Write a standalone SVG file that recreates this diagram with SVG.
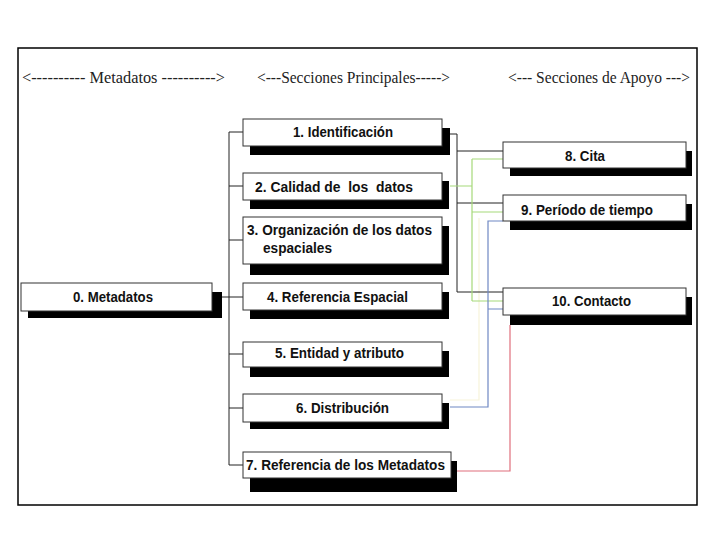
<svg xmlns="http://www.w3.org/2000/svg" width="720" height="540" viewBox="0 0 720 540">
<style>
.bg{fill:#ffffff}
.frame{fill:none;stroke:#000;stroke-width:1.5}
.hdr{font-family:"Liberation Serif","Times New Roman",serif;font-size:16px;fill:#222}
.box{fill:#fff;stroke:#333;stroke-width:1}
.sh{fill:#000}
.lbl{font-family:"Liberation Sans",Arial,sans-serif;font-weight:bold;font-size:15px;fill:#111}
.k{fill:none;stroke:#222;stroke-width:1}
.g{fill:none;stroke:#a6d97a;stroke-width:1.2}
.b{fill:none;stroke:#6f88c4;stroke-width:1.2}
.r{fill:none;stroke:#df6f7c;stroke-width:1.2}
.y{fill:none;stroke:#f7f3da;stroke-width:1.2}
</style>
<rect class="bg" x="0" y="0" width="720" height="540"/>
<rect class="frame" x="18" y="48" width="679" height="457"/>
<text class="hdr" x="22" y="83" textLength="203" lengthAdjust="spacingAndGlyphs">&lt;---------- Metadatos ----------&gt;</text>
<text class="hdr" x="257" y="83" textLength="193" lengthAdjust="spacingAndGlyphs">&lt;---Secciones Principales-----&gt;</text>
<text class="hdr" x="508" y="83" textLength="182" lengthAdjust="spacingAndGlyphs">&lt;--- Secciones de Apoyo ---&gt;</text>

<g id="connectors">
  <path class="k" d="M212 297 H243 M229 132 V465 M229 132 H243 M229 186 H243 M229 240 H243 M229 354 H243 M229 408 H243 M229 465 H243"/>
  <path class="y" d="M450 400 H479 V218"/>
  <path class="k" d="M450 134 H457 V292 H503 M457 151 H503 M457 203 H503"/>
  <path class="g" d="M450 186 H472 M472 159 V301 M472 159 H503 M472 212 H503 M472 301 H503"/>
  <path class="b" d="M450 407 H488 V221 H503 M488 309 H503"/>
  <path class="r" d="M457 471 H510 V325"/>
</g>

<g id="n0"><rect class="sh" x="28" y="292" width="194" height="26"/><rect class="box" x="21" y="283" width="191" height="28"/>
<text class="lbl" x="73" y="302" textLength="80" lengthAdjust="spacingAndGlyphs">0. Metadatos</text></g>
<g id="n1"><rect class="sh" x="250" y="128" width="200" height="27"/><rect class="box" x="243" y="119" width="199" height="27"/>
<text class="lbl" x="293" y="137" textLength="100" lengthAdjust="spacingAndGlyphs">1. Identificación</text></g>
<g id="n2"><rect class="sh" x="250" y="181" width="199" height="28"/><rect class="box" x="243" y="173" width="199" height="27"/>
<text class="lbl" x="255" y="192" textLength="158" lengthAdjust="spacingAndGlyphs" xml:space="preserve">2. Calidad de  los  datos</text></g>
<g id="n3"><rect class="sh" x="250" y="226" width="199" height="49"/><rect class="box" x="243" y="217" width="199" height="47"/>
<text class="lbl" x="247" y="235" textLength="185" lengthAdjust="spacingAndGlyphs">3. Organización de los datos</text>
<text class="lbl" x="263" y="253" textLength="69" lengthAdjust="spacingAndGlyphs">espaciales</text></g>
<g id="n4"><rect class="sh" x="250" y="292" width="199" height="27"/><rect class="box" x="243" y="283" width="199" height="27"/>
<text class="lbl" x="267" y="302" textLength="141" lengthAdjust="spacingAndGlyphs">4. Referencia Espacial</text></g>
<g id="n5"><rect class="sh" x="250" y="351" width="199" height="26"/><rect class="box" x="243" y="342" width="199" height="25"/>
<text class="lbl" x="275" y="358" textLength="129" lengthAdjust="spacingAndGlyphs">5. Entidad y atributo</text></g>
<g id="n6"><rect class="sh" x="250" y="403" width="199" height="26"/><rect class="box" x="243" y="394" width="199" height="28"/>
<text class="lbl" x="296" y="413" textLength="93" lengthAdjust="spacingAndGlyphs">6. Distribución</text></g>
<g id="n7"><rect class="sh" x="250" y="461" width="207" height="31"/><rect class="box" x="243" y="452" width="208" height="26"/>
<text class="lbl" x="246" y="470" textLength="199" lengthAdjust="spacingAndGlyphs">7. Referencia de los Metadatos</text></g>
<g id="n8"><rect class="sh" x="510" y="151" width="182" height="25"/><rect class="box" x="503" y="142" width="183" height="26"/>
<text class="lbl" x="565" y="161" textLength="40" lengthAdjust="spacingAndGlyphs">8. Cita</text></g>
<g id="n9"><rect class="sh" x="510" y="204" width="182" height="26"/><rect class="box" x="503" y="195" width="183" height="26"/>
<text class="lbl" x="521" y="215" textLength="132" lengthAdjust="spacingAndGlyphs">9. Período de tiempo</text></g>
<g id="n10"><rect class="sh" x="510" y="297" width="182" height="28"/><rect class="box" x="503" y="288" width="183" height="27"/>
<text class="lbl" x="552" y="306" textLength="79" lengthAdjust="spacingAndGlyphs">10. Contacto</text></g>
</svg>
